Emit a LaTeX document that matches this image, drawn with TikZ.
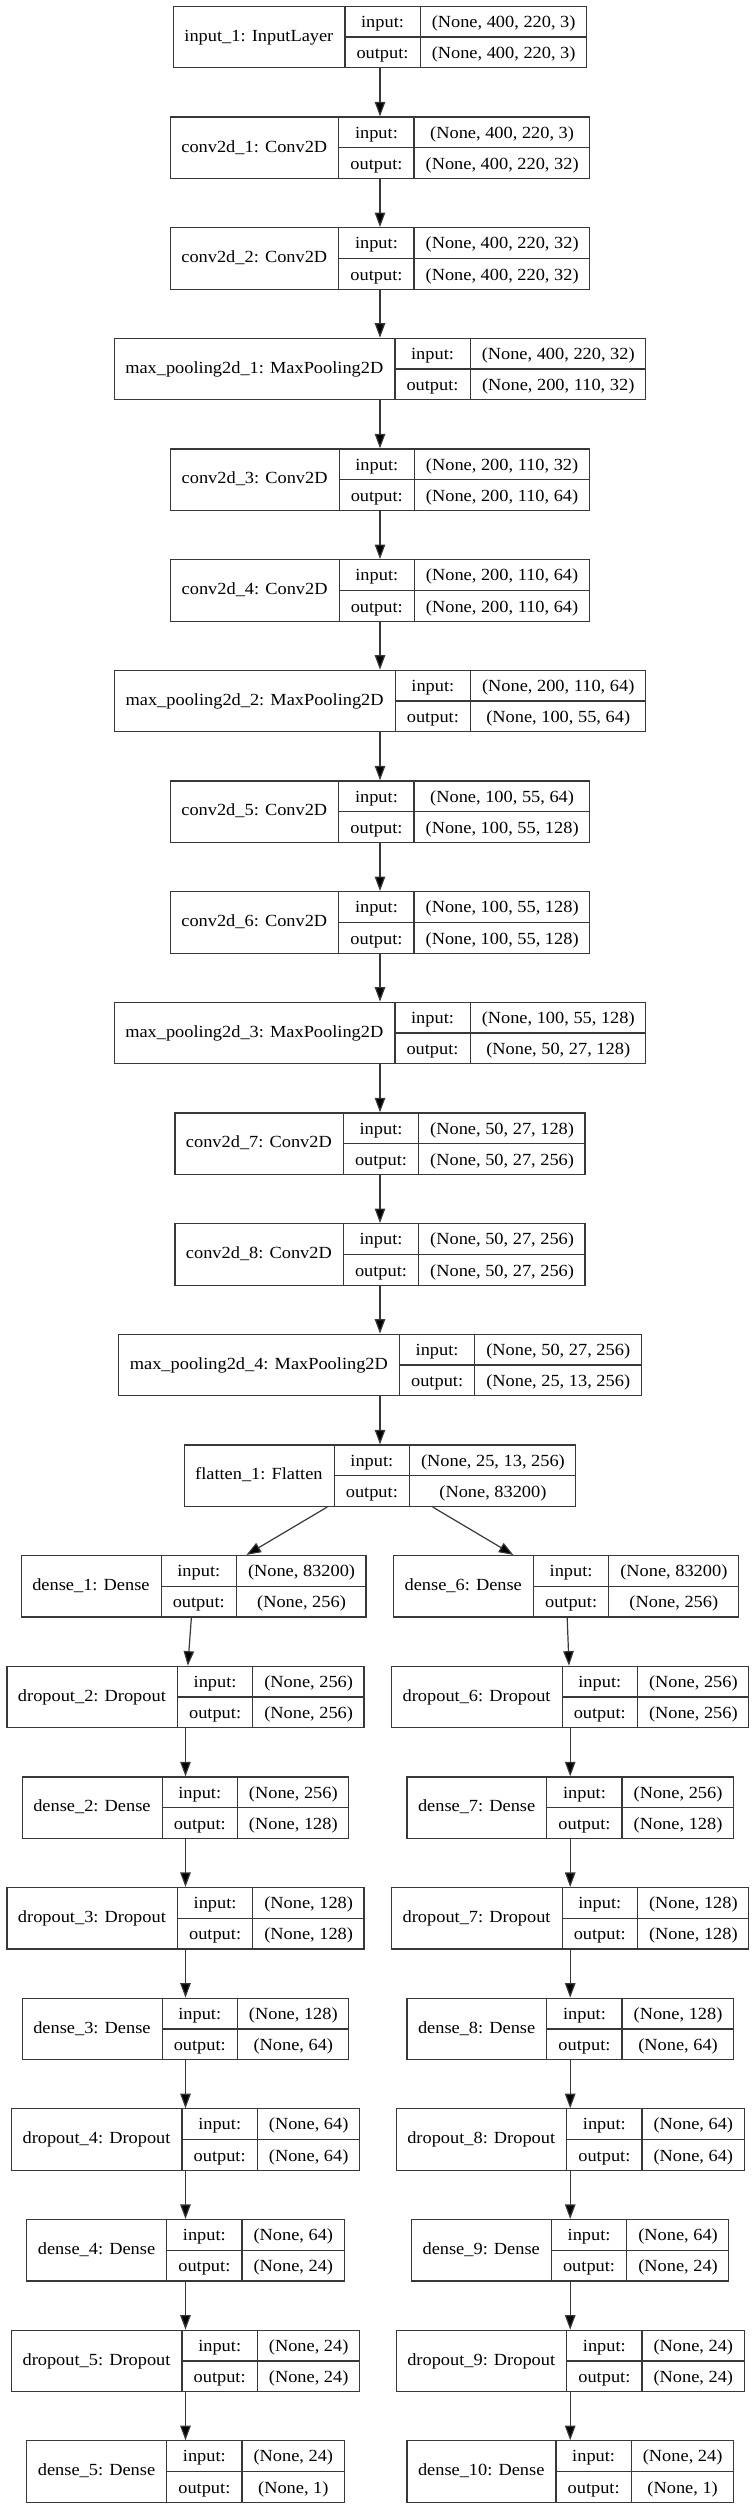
\documentclass[tikz,border=0pt]{standalone}
\usepackage{fontspec}
\setmainfont{Liberation Serif}[FakeStretch=1.08]
\usepackage[table]{xcolor}
\usepackage{tikz}
\usetikzlibrary{arrows.meta}

\definecolor{edgegray}{HTML}{383838}
\setlength\arrayrulewidth{1.2pt}
\setlength\tabcolsep{11pt}
\arrayrulecolor{edgegray}

% keras record: name | input:/output: | shapes
\newcommand\layer[3]{%
  \begin{tabular}{c|@{}c@{}}
    #1 &
    \begin{tabular}{c|c}
      input: & #2 \\ \hline
      output: & #3
    \end{tabular}
  \end{tabular}}

\begin{document}
\begin{tikzpicture}[x=1pt,y=-1pt,
  lay/.style={draw=edgegray, line width=1.2pt, inner sep=0pt, anchor=north,
    font=\fontsize{17pt}{30.15pt}\selectfont},
  arr/.style={draw=edgegray, line width=1.2pt,
    -{Triangle[length=14.5pt,width=10.5pt]}}]
 \useasboundingbox (0,0) rectangle (752,2508);
 % main column
 \node[lay] (in1) at (380,5.7)    {\layer{input\_1: InputLayer}{(None, 400, 220, 3)}{(None, 400, 220, 3)}};
 \node[lay] (cv1) at (380,116.4)  {\layer{conv2d\_1: Conv2D}{(None, 400, 220, 3)}{(None, 400, 220, 32)}};
 \node[lay] (cv2) at (380,227.0)  {\layer{conv2d\_2: Conv2D}{(None, 400, 220, 32)}{(None, 400, 220, 32)}};
 \node[lay] (mp1) at (380,337.7)  {\layer{max\_pooling2d\_1: MaxPooling2D}{(None, 400, 220, 32)}{(None, 200, 110, 32)}};
 \node[lay] (cv3) at (380,448.3)  {\layer{conv2d\_3: Conv2D}{(None, 200, 110, 32)}{(None, 200, 110, 64)}};
 \node[lay] (cv4) at (380,559.0)  {\layer{conv2d\_4: Conv2D}{(None, 200, 110, 64)}{(None, 200, 110, 64)}};
 \node[lay] (mp2) at (380,669.7)  {\layer{max\_pooling2d\_2: MaxPooling2D}{(None, 200, 110, 64)}{(None, 100, 55, 64)}};
 \node[lay] (cv5) at (380,780.3)  {\layer{conv2d\_5: Conv2D}{(None, 100, 55, 64)}{(None, 100, 55, 128)}};
 \node[lay] (cv6) at (380,891.0)  {\layer{conv2d\_6: Conv2D}{(None, 100, 55, 128)}{(None, 100, 55, 128)}};
 \node[lay] (mp3) at (380,1001.6) {\layer{max\_pooling2d\_3: MaxPooling2D}{(None, 100, 55, 128)}{(None, 50, 27, 128)}};
 \node[lay] (cv7) at (380,1112.3) {\layer{conv2d\_7: Conv2D}{(None, 50, 27, 128)}{(None, 50, 27, 256)}};
 \node[lay] (cv8) at (380,1223.0) {\layer{conv2d\_8: Conv2D}{(None, 50, 27, 256)}{(None, 50, 27, 256)}};
 \node[lay] (mp4) at (380,1333.6) {\layer{max\_pooling2d\_4: MaxPooling2D}{(None, 50, 27, 256)}{(None, 25, 13, 256)}};
 \node[lay] (fl)  at (380,1444.3) {\layer{flatten\_1: Flatten}{(None, 25, 13, 256)}{(None, 83200)}};
 % left branch
 \node[lay] (ds1) at (193.7,1554.9) {\layer{dense\_1: Dense}{(None, 83200)}{(None, 256)}};
 \node[lay] (dp2) at (185.5,1665.6) {\layer{dropout\_2: Dropout}{(None, 256)}{(None, 256)}};
 \node[lay] (ds2) at (185.5,1776.3) {\layer{dense\_2: Dense}{(None, 256)}{(None, 128)}};
 \node[lay] (dp3) at (185.5,1886.9) {\layer{dropout\_3: Dropout}{(None, 128)}{(None, 128)}};
 \node[lay] (ds3) at (185.5,1997.6) {\layer{dense\_3: Dense}{(None, 128)}{(None, 64)}};
 \node[lay] (dp4) at (185.5,2108.2) {\layer{dropout\_4: Dropout}{(None, 64)}{(None, 64)}};
 \node[lay] (ds4) at (185.5,2218.9) {\layer{dense\_4: Dense}{(None, 64)}{(None, 24)}};
 \node[lay] (dp5) at (185.5,2329.6) {\layer{dropout\_5: Dropout}{(None, 24)}{(None, 24)}};
 \node[lay] (ds5) at (185.5,2440.2) {\layer{dense\_5: Dense}{(None, 24)}{(None, 1)}};
 % right branch
 \node[lay] (ds6)  at (566.0,1554.9) {\layer{dense\_6: Dense}{(None, 83200)}{(None, 256)}};
 \node[lay] (dp6)  at (570.2,1665.6) {\layer{dropout\_6: Dropout}{(None, 256)}{(None, 256)}};
 \node[lay] (ds7)  at (570.2,1776.3) {\layer{dense\_7: Dense}{(None, 256)}{(None, 128)}};
 \node[lay] (dp7)  at (570.2,1886.9) {\layer{dropout\_7: Dropout}{(None, 128)}{(None, 128)}};
 \node[lay] (ds8)  at (570.2,1997.6) {\layer{dense\_8: Dense}{(None, 128)}{(None, 64)}};
 \node[lay] (dp8)  at (570.2,2108.2) {\layer{dropout\_8: Dropout}{(None, 64)}{(None, 64)}};
 \node[lay] (ds9)  at (570.2,2218.9) {\layer{dense\_9: Dense}{(None, 64)}{(None, 24)}};
 \node[lay] (dp9)  at (570.2,2329.6) {\layer{dropout\_9: Dropout}{(None, 24)}{(None, 24)}};
 \node[lay] (ds10) at (570.2,2440.2) {\layer{dense\_10: Dense}{(None, 24)}{(None, 1)}};
 \path[arr]
  (in1) edge (cv1)  (cv1) edge (cv2)  (cv2) edge (mp1)
  (mp1) edge (cv3)  (cv3) edge (cv4)  (cv4) edge (mp2)
  (mp2) edge (cv5)  (cv5) edge (cv6)  (cv6) edge (mp3)
  (mp3) edge (cv7)  (cv7) edge (cv8)  (cv8) edge (mp4)
  (mp4) edge (fl)
  (fl) edge (ds1)  edge (ds6)
  (ds1) edge (dp2)  (dp2) edge (ds2)  (ds2) edge (dp3)  (dp3) edge (ds3)
  (ds3) edge (dp4)  (dp4) edge (ds4)  (ds4) edge (dp5)  (dp5) edge (ds5)
  (ds6) edge (dp6)  (dp6) edge (ds7)  (ds7) edge (dp7)  (dp7) edge (ds8)
  (ds8) edge (dp8)  (dp8) edge (ds9)  (ds9) edge (dp9)  (dp9) edge (ds10);
\end{tikzpicture}
\end{document}
